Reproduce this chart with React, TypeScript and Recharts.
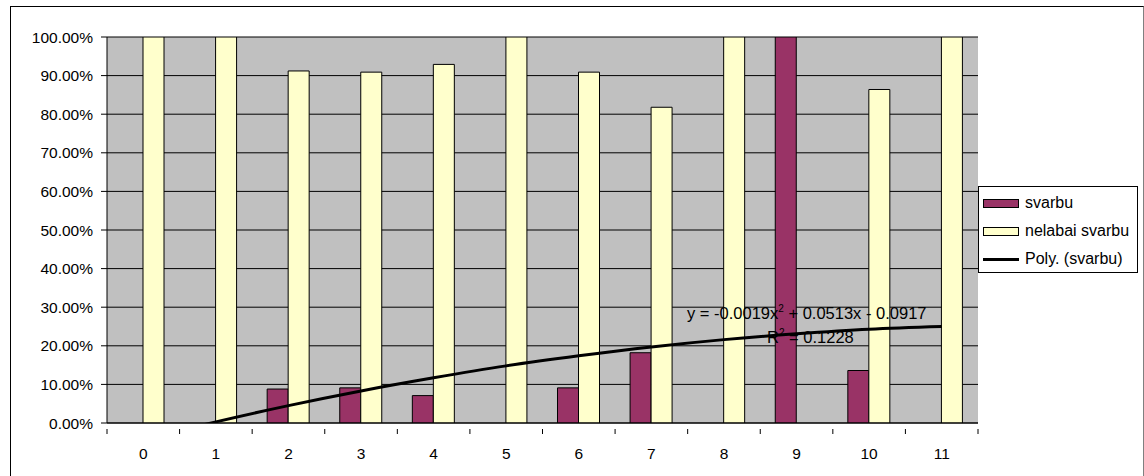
import React from 'react';
import { ComposedChart, Bar, Line, XAxis, YAxis, CartesianGrid } from 'recharts';

const categories = ['0', '1', '2', '3', '4', '5', '6', '7', '8', '9', '10', '11'];
const svarbu = [0, 0, 0.088, 0.091, 0.071, 0, 0.091, 0.182, 0, 1, 0.136, 0];
const nelabaiSvarbu = [1, 1, 0.912, 0.909, 0.929, 1, 0.909, 0.818, 1, 0, 0.864, 1];
// polynomial trendline of svarbu at each category
const polySvarbu = [-0.042, 0.003, 0.045, 0.083, 0.117, 0.148, 0.174, 0.197, 0.216, 0.231, 0.243, 0.25];
const yTicks = [0, 0.1, 0.2, 0.3, 0.4, 0.5, 0.6, 0.7, 0.8, 0.9, 1];
const legendItems = [
  { label: 'svarbu', kind: 'bar', color: '#993366' },
  { label: 'nelabai svarbu', kind: 'bar', color: '#FFFFCC' },
  { label: 'Poly. (svarbu)', kind: 'line', color: '#000' },
];

const data = categories.map((c, i) => ({
  cat: c,
  svarbu: svarbu[i],
  nelabai: nelabaiSvarbu[i],
  poly: polySvarbu[i],
}));

const FONT = '"Liberation Sans", Arial, sans-serif';
const W = 1144;
const H = 476;
const PLOT_LEFT = 107;
const PLOT_RIGHT = 978;
const PLOT_TOP = 37;
const PLOT_BOTTOM = 423;
const BAND = (PLOT_RIGHT - PLOT_LEFT) / categories.length;

const XTick = (props: any) => {
  const { x, y, payload, index } = props;
  const isLast = index === categories.length - 1;
  return (
    <g>
      <line x1={x - BAND / 2} x2={x - BAND / 2} y1={y} y2={y + 5} stroke="#000" />
      {isLast && <line x1={x + BAND / 2} x2={x + BAND / 2} y1={y} y2={y + 5} stroke="#000" />}
      <text x={x} y={y + 24} textAnchor="middle" dominantBaseline="central" fontSize={15.5} fontFamily={FONT} fill="#000">
        {payload.value}
      </text>
    </g>
  );
};

const LegendBox = () => (
  <div style={{ position: 'absolute', left: 978, top: 186, width: 160, height: 87, boxSizing: 'border-box', border: '1px solid #000', background: '#fff', fontFamily: FONT, fontSize: 16 }}>
    {legendItems.map((it, i) => (
      <div key={it.label} style={{ position: 'absolute', left: 4, top: 6 + i * 28, height: 20, display: 'flex', alignItems: 'center' }}>
        {it.kind === 'bar' ? (
          <span style={{ display: 'inline-block', width: 34, height: 7, background: it.color, border: '1px solid #000' }} />
        ) : (
          <span style={{ display: 'inline-block', width: 36, height: 3, background: '#000' }} />
        )}
        <span style={{ marginLeft: 6, color: '#000', whiteSpace: 'nowrap' }}>{it.label}</span>
      </div>
    ))}
  </div>
);

const eqStyle: React.CSSProperties = { position: 'absolute', fontFamily: FONT, fontSize: 16.5, lineHeight: '20px', whiteSpace: 'nowrap', color: '#000' };
const supStyle: React.CSSProperties = { fontSize: 10, verticalAlign: 'top', lineHeight: '12px' };

export default function App() {
  return (
    <div style={{ position: 'absolute', left: 0, top: 0, width: W, height: H, overflow: 'hidden', background: '#fff' }}>
      <div style={{ position: 'absolute', left: 10, top: 6, width: 1134, height: 480, border: '1px solid #000', borderRightColor: '#808080', boxSizing: 'border-box' }} />
      <div style={{ position: 'absolute', left: 0, top: 0 }}>
        <ComposedChart
          width={W}
          height={H}
          data={data}
          margin={{ top: PLOT_TOP, right: W - PLOT_RIGHT, bottom: 0, left: 0 }}
          barGap={0}
          barSize={21}
        >
          <CartesianGrid vertical={false} stroke="#000" fill="#C0C0C0" fillOpacity={1} />
          <XAxis
            dataKey="cat"
            height={H - PLOT_BOTTOM}
            tickLine={false}
            tickMargin={0}
            tick={<XTick />}
            interval={0}
            axisLine={{ stroke: '#000' }}
          />
          <YAxis
            width={PLOT_LEFT}
            domain={[0, 1]}
            ticks={yTicks}
            allowDataOverflow
            tickFormatter={(v: number) => (v * 100).toFixed(2) + '%'}
            tickSize={6}
            tickMargin={8}
            tickLine={{ stroke: '#000' }}
            axisLine={{ stroke: '#000' }}
            tick={{ fill: '#000', fontSize: 15.5, fontFamily: FONT }}
          />
          <Bar dataKey="svarbu" fill="#993366" stroke="#000" strokeWidth={1} isAnimationActive={false} />
          <Bar dataKey="nelabai" fill="#FFFFCC" stroke="#000" strokeWidth={1} isAnimationActive={false} />
          <Line dataKey="poly" type="monotone" stroke="#000" strokeWidth={3} dot={false} activeDot={false} isAnimationActive={false} />
        </ComposedChart>
      </div>
      <LegendBox />
      <div style={{ ...eqStyle, left: 687, top: 303 }}>
        y = -0.0019x<sup style={supStyle}>2</sup> + 0.0513x - 0.0917
      </div>
      <div style={{ ...eqStyle, left: 767, top: 327 }}>
        R<sup style={supStyle}>2</sup> = 0.1228
      </div>
    </div>
  );
}
